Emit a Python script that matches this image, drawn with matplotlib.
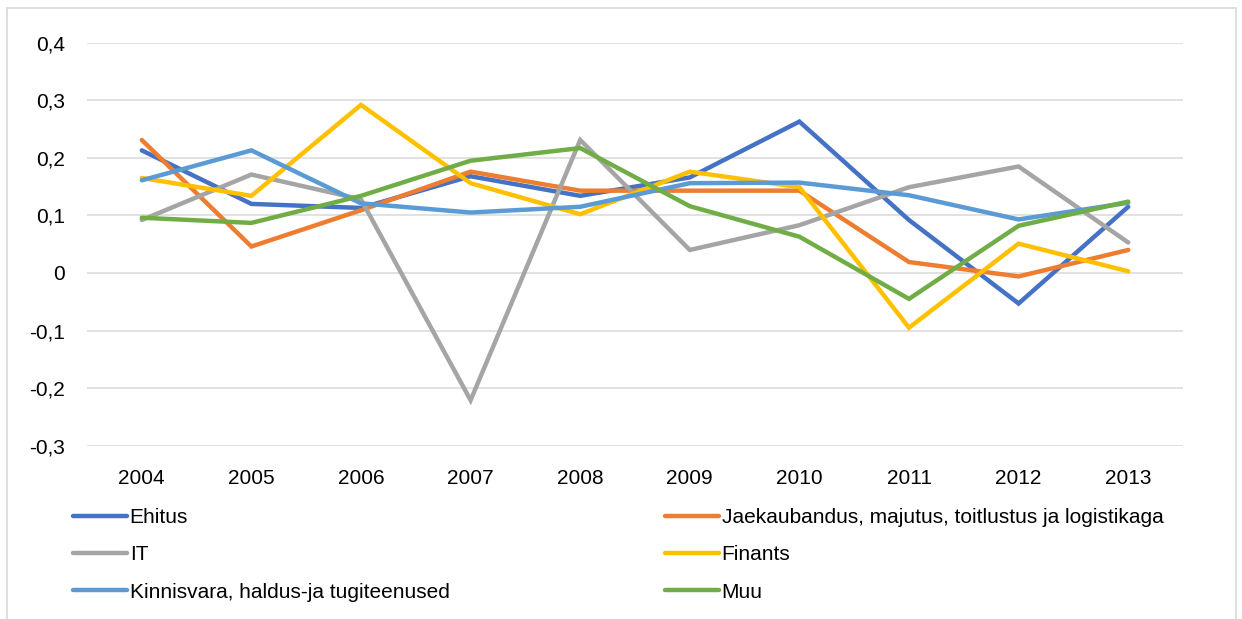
import matplotlib.pyplot as plt
from matplotlib.patches import Rectangle
from matplotlib.ticker import FuncFormatter

years = [2004, 2005, 2006, 2007, 2008, 2009, 2010, 2011, 2012, 2013]

ehitus = [0.213, 0.120, 0.113, 0.168, 0.134, 0.166, 0.263, 0.092, -0.053, 0.115]
jaekaubandus = [0.231, 0.046, 0.109, 0.176, 0.143, 0.143, 0.143, 0.019, -0.006, 0.040]
it = [0.092, 0.171, 0.128, -0.221, 0.231, 0.040, 0.083, 0.149, 0.185, 0.053]
finants = [0.165, 0.134, 0.292, 0.156, 0.102, 0.176, 0.149, -0.095, 0.051, 0.003]
kinnisvara = [0.161, 0.213, 0.121, 0.105, 0.115, 0.156, 0.157, 0.135, 0.093, 0.122]
muu = [0.096, 0.087, 0.134, 0.195, 0.217, 0.116, 0.063, -0.045, 0.082, 0.124]

series = [
    ("Ehitus", ehitus, "#4472C4"),
    ("Jaekaubandus, majutus, toitlustus ja logistikaga", jaekaubandus, "#ED7D31"),
    ("IT", it, "#A5A5A5"),
    ("Finants", finants, "#FFC000"),
    ("Kinnisvara, haldus-ja tugiteenused", kinnisvara, "#5B9BD5"),
    ("Muu", muu, "#70AD47"),
]

plt.rcParams['font.family'] = ['Liberation Sans', 'DejaVu Sans']
plt.rcParams['font.size'] = 15

W, H = 1242, 619
fig = plt.figure(figsize=(W / 100, H / 100), dpi=100)
ax = fig.add_axes([87 / W, 1 - 445.7 / H, (1183 - 87) / W, (445.7 - 42.7) / H])

# chart area border
fig.patches.append(Rectangle((7 / W, -0.05), (1236 - 7) / W, 1.05 - 8 / H,
                             transform=fig.transFigure, fill=False,
                             edgecolor="#D9D9D9", linewidth=1.2))

x = list(range(len(years)))
lines = {}
for name, vals, col in series:
    lines[name], = ax.plot(x, vals, color=col, linewidth=3.2, solid_joinstyle="miter",
                           solid_capstyle="round", label=name)

ax.set_xlim(-0.5, len(years) - 0.5)
ax.set_ylim(-0.3, 0.4)
ax.set_yticks([-0.3, -0.2, -0.1, 0, 0.1, 0.2, 0.3, 0.4])
ax.yaxis.set_major_formatter(FuncFormatter(
    lambda v, p: "0" if abs(v) < 1e-9 else f"{v:.1f}".replace(".", ",")))
ax.set_xticks(x)
ax.set_xticklabels([str(y) for y in years])
ax.tick_params(axis="both", length=0, colors="#000000", labelsize=15)
ax.tick_params(axis="y", pad=16)
ax.tick_params(axis="x", pad=17)
ax.grid(axis="y", color="#D9D9D9", linewidth=1.1)
ax.set_axisbelow(True)
for s in ax.spines.values():
    s.set_visible(False)

# legend in two columns
names = [s[0] for s in series]
left = [names[0], names[2], names[4]]
right = [names[1], names[3], names[5]]
leg_kw = dict(loc="upper left", frameon=False, borderpad=0, borderaxespad=0,
              handlelength=2.6, handletextpad=0.12, labelspacing=0.88, fontsize=15)
leg1 = fig.legend([lines[n] for n in left], left,
                  bbox_to_anchor=(73 / W, 1 - 508 / H), **leg_kw)
leg2 = fig.legend([lines[n] for n in right], right,
                  bbox_to_anchor=(665 / W, 1 - 508 / H), **leg_kw)

fig.savefig("out.png", dpi=100)
